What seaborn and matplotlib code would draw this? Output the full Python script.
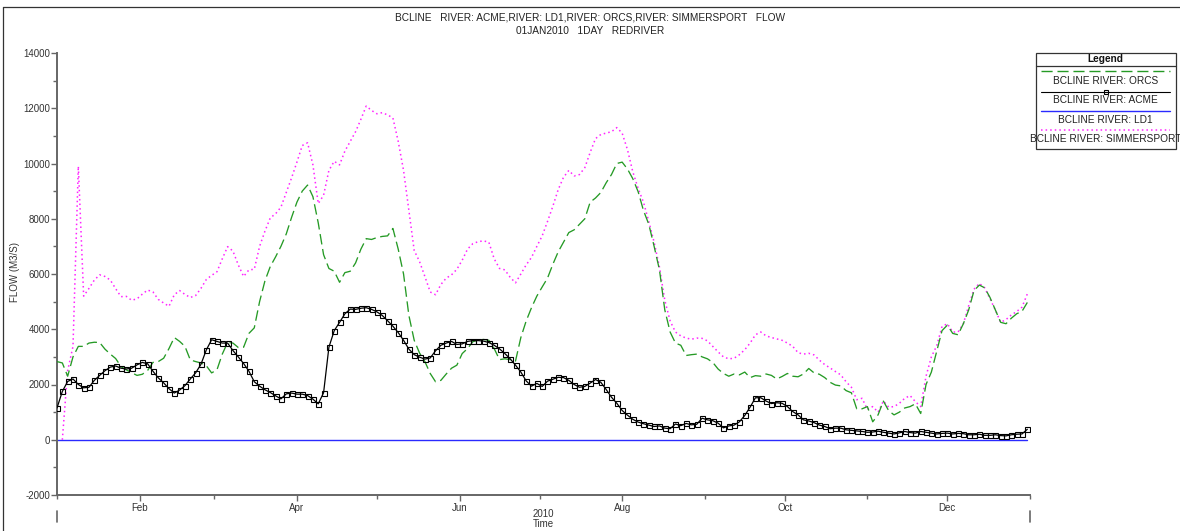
import numpy as np
import pandas as pd
import matplotlib
matplotlib.use("Agg")
import matplotlib.pyplot as plt
import matplotlib.dates as mdates
from matplotlib.lines import Line2D
from matplotlib.patches import Rectangle
from matplotlib.ticker import MultipleLocator, FuncFormatter
import seaborn as sns

# Daily flow record, sampled every second day from 01JAN2010 (m3/s)
START = "2010-01-01"
STEP_DAYS = 2

acme = [
    1150, 1750, 2110, 2200, 2000, 1880, 1900, 2150, 2330, 2500,
    2630, 2670, 2590, 2560, 2590, 2710, 2800, 2750, 2480, 2240,
    2060, 1850, 1690, 1800, 1960, 2200, 2420, 2730, 3250, 3620,
    3560, 3500, 3500, 3230, 3000, 2760, 2480, 2100, 1940, 1810,
    1710, 1590, 1480, 1660, 1690, 1650, 1650, 1600, 1470, 1300,
    1700, 3350, 3950, 4250, 4560, 4730, 4720, 4760, 4780, 4720,
    4630, 4500, 4310, 4110, 3880, 3600, 3280, 3080, 2990, 2920,
    2960, 3220, 3420, 3500, 3560, 3450, 3470, 3560, 3590, 3590,
    3570, 3520, 3420, 3290, 3120, 2930, 2700, 2450, 2130, 1940,
    2040, 1930, 2120, 2190, 2260, 2250, 2150, 2000, 1900, 1930,
    2050, 2180, 2080, 1820, 1540, 1320, 1060, 890, 740, 640,
    580, 530, 480, 500, 420, 400, 570, 510, 590, 540,
    560, 780, 720, 690, 600, 430, 500, 530, 650, 880,
    1180, 1520, 1520, 1400, 1310, 1340, 1320, 1200, 1020, 900,
    720, 680, 620, 530, 480, 400, 420, 420, 360, 340,
    320, 300, 270, 280, 310, 270, 240, 210, 250, 300,
    260, 240, 300, 270, 240, 210, 230, 240, 210, 230,
    220, 180, 180, 200, 160, 160, 180, 150, 140, 180,
    200, 210, 380,
]

orcs = [
    2830, 2780, 2300, 3000, 3380, 3380, 3500, 3530, 3520, 3280,
    3100, 2940, 2650, 2530, 2430, 2330, 2370, 2510, 2800, 2830,
    2950, 3300, 3700, 3560, 3380, 2890, 2830, 2780, 2680, 2420,
    2530, 3100, 3520, 3500, 3340, 3350, 3850, 4050, 5000, 5750,
    6270, 6620, 7000, 7450, 8050, 8600, 9000, 9220, 8800, 7850,
    6700, 6200, 6100, 5700, 6050, 6100, 6400, 6900, 7280, 7250,
    7320, 7360, 7380, 7650, 6900, 6000, 4500, 3600, 3140, 2830,
    2400, 2100, 2150, 2380, 2590, 2700, 3120, 3300, 3550, 3610,
    3630, 3600, 3300, 2900, 2930, 2900, 2850, 3700, 4300, 4780,
    5200, 5530, 5850, 6350, 6800, 7150, 7500, 7600, 7800, 8000,
    8600, 8750, 8950, 9300, 9600, 10000, 10050, 9800, 9450, 8980,
    8300, 7800, 7000, 6150, 4700, 3900, 3500, 3420, 3050, 3080,
    3100, 3000, 2930, 2800, 2560, 2400, 2300, 2380, 2350, 2450,
    2250, 2320, 2300, 2380, 2330, 2200, 2290, 2400, 2300, 2280,
    2380, 2580, 2420, 2370, 2250, 2080, 1980, 1950, 1780, 1700,
    1120, 1120, 1200, 650, 900, 1400, 1050, 900, 1000, 1150,
    1200, 1300, 950, 2000, 2450, 3200, 3950, 4150, 3850, 3800,
    4200, 4700, 5400, 5600, 5500, 5150, 4700, 4250, 4200, 4400,
    4560, 4650, 4970,
]

simmersport = [
    np.nan, 0, 2500, 3380, 9900, 5200, 5480, 5780, 5970, 5910,
    5780, 5470, 5180, 5190, 5050, 5100, 5270, 5420, 5350, 5080,
    4950, 4830, 5250, 5400, 5260, 5150, 5220, 5480, 5800, 5950,
    6080, 6550, 6990, 6830, 6330, 5910, 6150, 6170, 7000, 7550,
    8030, 8180, 8420, 8950, 9480, 10050, 10650, 10750, 9950, 8550,
    8850, 9750, 10080, 9950, 10450, 10800, 11150, 11600, 12080, 11920,
    11800, 11840, 11760, 11650, 10800, 9750, 8300, 6850, 6450, 5910,
    5350, 5250, 5620, 5850, 5970, 6170, 6500, 6900, 7100, 7170,
    7200, 7150, 6550, 6200, 6150, 5880, 5680, 6000, 6330, 6600,
    7000, 7380, 7900, 8450, 9050, 9500, 9750, 9550, 9600, 9850,
    10400, 10900, 11050, 11100, 11150, 11300, 11100, 10500, 9700, 9100,
    8600, 7900, 7150, 6250, 5050, 4300, 3900, 3760, 3680, 3640,
    3680, 3670, 3580, 3380, 3180, 3000, 2930, 2950, 3080, 3260,
    3500, 3800, 3900, 3760, 3700, 3650, 3600, 3500, 3380, 3150,
    3100, 3130, 3070, 2880, 2720, 2600, 2470, 2350, 2100, 1900,
    1450, 1500, 1100, 1200, 1000, 1400, 1180, 1200, 1320, 1500,
    1600, 1380, 1200, 2300, 3000, 3400, 4100, 4200, 3900, 3900,
    4200, 4850, 5450, 5660, 5500, 5100, 4700, 4250, 4350, 4520,
    4640, 4800, 5280,
]

# LD1 carried no flow over the year
ld1 = [0.0] * len(acme)

series_names = ["BCLINE RIVER: ORCS", "BCLINE RIVER: ACME",
                "BCLINE RIVER: LD1", "BCLINE RIVER: SIMMERSPORT"]
title_lines = ["BCLINE   RIVER: ACME,RIVER: LD1,RIVER: ORCS,RIVER: SIMMERSPORT   FLOW",
               "01JAN2010   1DAY   REDRIVER"]

dates = pd.date_range(START, periods=len(acme), freq=f"{STEP_DAYS}D")

GREEN = "#259a25"
BLUE = "#2a2aff"
MAGENTA = "#ff22ff"
GREEN_LS = (0, (8, 3.5))
MAGENTA_LS = (0, (1.0, 2.0))

sns.set_style("ticks")
plt.rcParams["font.family"] = ["Liberation Sans", "DejaVu Sans"]

W, H = 1180, 531
fig = plt.figure(figsize=(W / 100, H / 100), dpi=100)


def fx(px):
    return px / W


def fy(py):
    return 1 - py / H


ax = fig.add_axes([fx(57), fy(495), fx(1030) - fx(57), fy(53) - fy(495)])

sns.lineplot(x=dates, y=ld1, color=BLUE, linewidth=1.0, ax=ax, legend=False, zorder=2)
sns.lineplot(x=dates, y=simmersport, color=MAGENTA, linewidth=1.1, linestyle=MAGENTA_LS,
             ax=ax, legend=False, zorder=3)
sns.lineplot(x=dates, y=orcs, color=GREEN, linewidth=0.95, linestyle=GREEN_LS,
             ax=ax, legend=False, zorder=4)
sns.lineplot(x=dates, y=acme, color="black", linewidth=0.9, marker="s", markersize=3.6,
             markerfacecolor="none", markeredgecolor="black", markeredgewidth=0.8,
             ax=ax, legend=False, zorder=5)

ax.set_xlim(pd.Timestamp("2010-01-01"), pd.Timestamp("2011-01-01"))
ax.set_ylim(-2000, 14000)
ax.set_xlabel("")
ax.set_ylabel("")

# Axes frame: only the left and bottom axis lines
for side in ("top", "right"):
    ax.spines[side].set_visible(False)
for side in ("left", "bottom"):
    ax.spines[side].set_color("#666666")
    ax.spines[side].set_linewidth(1.4)

TICK_COLOR = "#333333"
ax.yaxis.set_major_locator(MultipleLocator(2000))
ax.yaxis.set_minor_locator(MultipleLocator(1000))
ax.yaxis.set_major_formatter(FuncFormatter(lambda v, _: f"{int(v)}"))
ax.xaxis.set_major_locator(mdates.MonthLocator(bymonth=[2, 4, 6, 8, 10, 12]))
ax.xaxis.set_minor_locator(mdates.MonthLocator(bymonth=[1, 3, 5, 7, 9, 11]))
ax.xaxis.set_major_formatter(mdates.DateFormatter("%b"))
ax.tick_params(axis="both", which="major", direction="out", length=4, width=1,
               color="#666666", labelsize=7, labelcolor=TICK_COLOR, pad=2)
ax.tick_params(axis="both", which="minor", direction="out", length=3, width=1,
               color="#666666")
ax.tick_params(axis="y", which="major", pad=1)

# Year span markers below the time axis
for xa in (0.0, 1.0):
    ax.add_line(Line2D([xa, xa], [-16 / 442, -27 / 442], transform=ax.transAxes,
                       color="#666666", linewidth=1.2, clip_on=False))
fig.text(fx(543.5), fy(514), "2010", ha="center", va="center", fontsize=7, color=TICK_COLOR)
fig.text(fx(543.5), fy(524), "Time", ha="center", va="center", fontsize=7, color=TICK_COLOR)

fig.text(fx(15), fy(272), "FLOW (M3/S)", rotation=90, ha="center", va="center",
         fontsize=7, color=TICK_COLOR)

fig.text(0.5, fy(17), title_lines[0], ha="center", va="center", fontsize=7.3, color="#222222")
fig.text(0.5, fy(31), title_lines[1], ha="center", va="center", fontsize=7.3, color="#222222")

# Outer frame along the top and left edges
fig.add_artist(Line2D([fx(3), 1.0], [fy(6.5), fy(6.5)], transform=fig.transFigure,
                      color="#333333", linewidth=0.9))
fig.add_artist(Line2D([fx(3), fx(3)], [fy(6.5), 0.0], transform=fig.transFigure,
                      color="#333333", linewidth=0.9))

# Legend panel to the right of the plot
bx0, by0, bx1, by1 = 1035.5, 52.5, 1175.5, 149
fig.add_artist(Rectangle((fx(bx0), fy(by1)), fx(bx1) - fx(bx0), fy(by0) - fy(by1),
                         transform=fig.transFigure, facecolor="white",
                         edgecolor="#333333", linewidth=0.9))
cx = (bx0 + bx1) / 2
fig.text(fx(cx), fy(59), "Legend", ha="center", va="center", fontsize=7.3,
         fontweight="bold", color="#111111")
fig.add_artist(Line2D([fx(bx0), fx(bx1)], [fy(65.5), fy(65.5)], transform=fig.transFigure,
                      color="#333333", linewidth=0.9))

lx0, lx1 = 1041, 1170
samples = [
    dict(y=71, color=GREEN, linestyle=GREEN_LS, linewidth=1.0),
    dict(y=91.5, color="black", linestyle="-", linewidth=0.8),
    dict(y=111, color=BLUE, linestyle="-", linewidth=1.0),
    dict(y=129.5, color=MAGENTA, linestyle=MAGENTA_LS, linewidth=1.1),
]
text_rows = [80.5, 100, 120, 138.5]
for s, ty, name in zip(samples, text_rows, series_names):
    fig.add_artist(Line2D([fx(lx0), fx(lx1)], [fy(s["y"]), fy(s["y"])],
                          transform=fig.transFigure, color=s["color"],
                          linestyle=s["linestyle"], linewidth=s["linewidth"]))
    fig.text(fx(cx), fy(ty), name, ha="center", va="center", fontsize=7.3, color="#222222")
fig.add_artist(Line2D([fx(cx)], [fy(91.5)], transform=fig.transFigure, marker="s",
                      markersize=3.4, markerfacecolor="none", markeredgecolor="black",
                      markeredgewidth=0.8, linestyle="none"))

fig.savefig("out.png", dpi=100, facecolor="white")
